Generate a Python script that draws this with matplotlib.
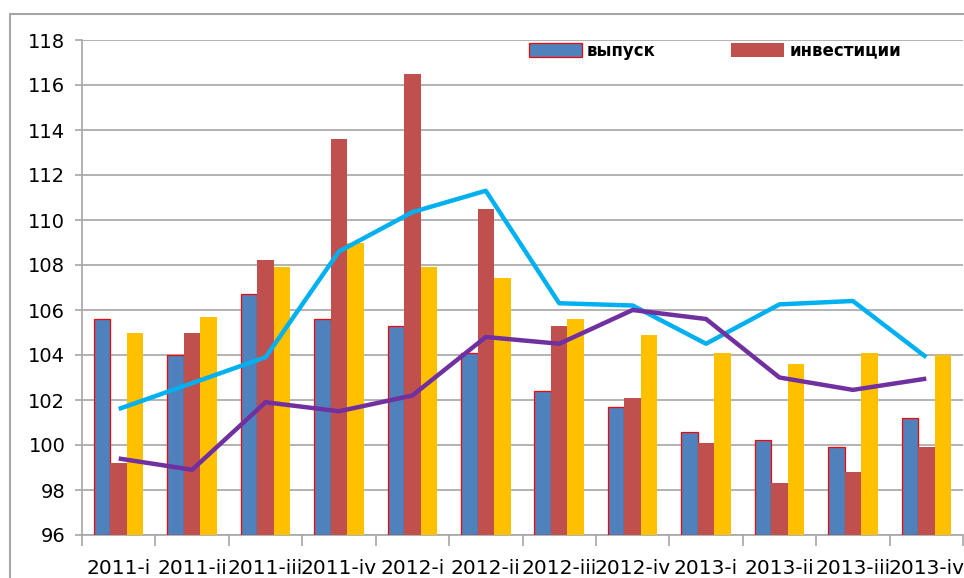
import numpy as np
import matplotlib.pyplot as plt
from matplotlib.patches import Rectangle

plt.rcParams['font.family'] = ['DejaVu Sans']

# quarters
categories = ['2011-i', '2011-ii', '2011-iii', '2011-iv',
              '2012-i', '2012-ii', '2012-iii', '2012-iv',
              '2013-i', '2013-ii', '2013-iii', '2013-iv']

# bar series
vypusk = [105.6, 104.0, 106.7, 105.6, 105.3, 104.1, 102.4, 101.7, 100.6, 100.2, 99.9, 101.2]
investicii = [99.2, 105.0, 108.2, 113.6, 116.5, 110.5, 105.3, 102.1, 100.1, 98.3, 98.8, 99.9]
yellow_vals = [105.0, 105.7, 107.9, 109.0, 107.9, 107.4, 105.6, 104.9, 104.1, 103.6, 104.1, 104.0]

# line series
cyan_vals = [101.6, 102.75, 103.9, 108.6, 110.35, 111.3, 106.3, 106.2, 104.5, 106.25, 106.4, 103.9]
purple_vals = [99.4, 98.9, 101.9, 101.5, 102.2, 104.8, 104.5, 106.0, 105.6, 103.0, 102.45, 102.95]

y_ticks = list(range(96, 119, 2))

narrow = ['DejaVu Sans Condensed', 'Liberation Sans Narrow', 'DejaVu Sans']

fig = plt.figure(figsize=(9.64, 5.78), dpi=100)
ax = fig.add_axes([82/964, 43/578, 881/964, 495/578])

x = np.arange(len(categories))
w = 0.225
base = 96
ax.bar(x - w, np.array(vypusk) - base, w, bottom=base, color='#4F81BD',
       edgecolor='#FF0000', linewidth=0.9, label='выпуск', zorder=3)
ax.bar(x, np.array(investicii) - base, w, bottom=base, color='#C0504D',
       linewidth=0, label='инвестиции', zorder=3)
ax.bar(x + w, np.array(yellow_vals) - base, w, bottom=base, color='#FFC000',
       linewidth=0, zorder=3)

ax.plot(x, cyan_vals, color='#00B0F0', linewidth=3.2, zorder=4, solid_capstyle='butt')
ax.plot(x, purple_vals, color='#7030A0', linewidth=3.2, zorder=4, solid_capstyle='butt')

ax.set_xlim(-0.5, len(categories) - 0.5)
ax.set_ylim(96, 118)
ax.set_yticks(y_ticks)
ax.set_yticklabels([str(t) for t in y_ticks], fontsize=14)
ax.grid(axis='y', color='#A6A6A6', linewidth=1.2, zorder=0)

ax.set_xticks(x)
ax.set_xticklabels(categories, fontsize=14.5, family=narrow)
ax.set_xticks(np.arange(-0.5, len(categories), 1), minor=True)
ax.tick_params(axis='x', which='major', length=0, pad=17)
ax.tick_params(axis='x', which='minor', length=8, color='#A6A6A6', width=1.2)
ax.tick_params(axis='y', length=5, color='#A6A6A6', width=1.2, pad=7)

for s in ['top', 'right']:
    ax.spines[s].set_visible(False)
ax.spines['left'].set_color('#A6A6A6')
ax.spines['left'].set_linewidth(1.2)
ax.spines['bottom'].set_color('#A6A6A6')
ax.spines['bottom'].set_linewidth(1.2)

leg = ax.legend(loc='upper left', bbox_to_anchor=(0.49, 1.027), ncol=2, frameon=False,
                columnspacing=4.5, handlelength=3.2, handleheight=0.9,
                handletextpad=0.3, prop={'weight': 'bold', 'size': 12})

# outer chart border
fig.patches.append(Rectangle((10/964, -0.1), 1.0, (578 - 14)/578 + 0.1,
                             transform=fig.transFigure, fill=False,
                             edgecolor='#A6A6A6', linewidth=1.5))

fig.savefig('out.png', dpi=100)
